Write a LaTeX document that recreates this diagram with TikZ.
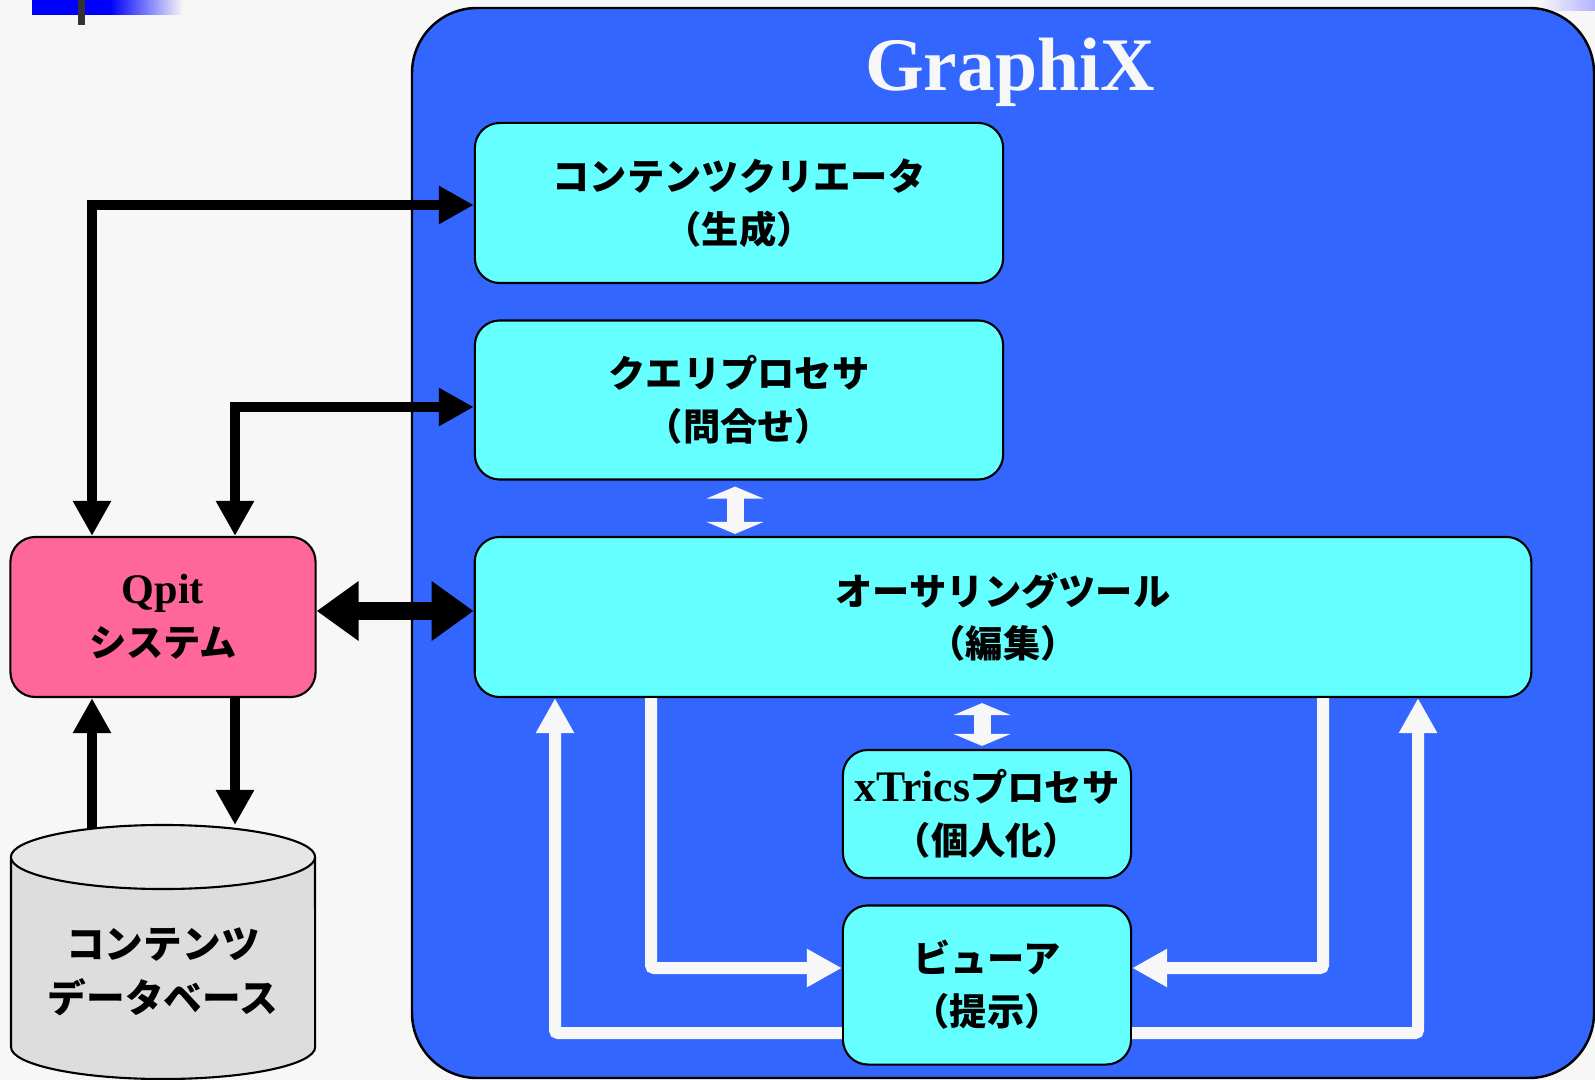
\documentclass[tikz,border=0pt]{standalone}
\usepackage{fontspec}
\usepackage{tikz}
\usetikzlibrary{arrows.meta}
\setmainfont{Liberation Serif}
\newfontfamily\jpfont{Noto Sans CJK JP}

\definecolor{bg}{HTML}{F7F7F7}
\definecolor{gblue}{HTML}{3366FF}
\definecolor{cyanbox}{HTML}{66FFFF}
\definecolor{qpink}{HTML}{FF6699}
\definecolor{dbgray}{HTML}{DDDDDD}
\definecolor{dbtop}{HTML}{E6E6E6}

\begin{document}
\begin{tikzpicture}[x=0.01cm, y=-0.01cm,
		cbox/.style={draw, fill=cyanbox, line width=0.6pt, rounded corners=0.25cm, align=center, inner sep=0pt,
			font=\jpfont\bfseries\fontsize{10.6}{15}\selectfont},
		blkarrow/.style={draw=black, line width=0.1cm, arrows={-Triangle[width=0.36cm,length=0.35cm]}},
		blkboth/.style={draw=black, line width=0.1cm, arrows={Triangle[width=0.36cm,length=0.35cm]-Triangle[width=0.36cm,length=0.35cm]}},
		blkdbl/.style={draw=black, line width=0.18cm, arrows={Triangle[width=0.57cm,length=0.42cm]-Triangle[width=0.57cm,length=0.42cm]}},
		wdbl/.style={draw=bg, line width=0.17cm, arrows={Triangle[width=0.57cm,length=0.12cm]-Triangle[width=0.57cm,length=0.12cm]}},
		warrow/.style={draw=bg, line width=0.12cm, rounded corners=0.03cm, arrows={-Triangle[width=0.36cm,length=0.35cm]}}]
				\fill[bg] (0,0) rectangle (1595,1080);
				\useasboundingbox (0,0) rectangle (1595,1080);
				
				% top bars
				\fill[blue] (32,0) rectangle (110,15);
				\shade[left color=blue, right color=bg] (110,0) rectangle (183,15);
				\fill[black!80] (78,0) rectangle (85,25);
				\shade[left color=bg, right color=blue!30] (1540,0) rectangle (1595,11);
				
				% GraphiX frame
				\draw[fill=gblue, line width=0.7pt, rounded corners=0.65cm] (412,8) rectangle (1594,1078);
				\path (1010,72) node[text=bg, font=\bfseries\fontsize{21.5}{25}\selectfont] (title) {GraphiX};
				
				\path (739,203) node[cbox, minimum width=5.28cm, minimum height=1.6cm] (creator) {コンテンツクリエータ\\（生成）}
				(739,400) node[cbox, minimum width=5.28cm, minimum height=1.59cm] (query) {クエリプロセサ\\（問合せ）}
				(1003,617) node[cbox, minimum width=10.56cm, minimum height=1.6cm] (author) {オーサリングツール\\（編集）}
				(987,814) node[cbox, minimum width=2.88cm, minimum height=1.28cm] (xtrics) {{\rmfamily\bfseries\fontsize{12.4}{15}\selectfont xTrics}プロセサ\\（個人化）}
				(987,985) node[cbox, minimum width=2.88cm, minimum height=1.59cm] (viewer) {ビューア\\（提示）}
				(163,617) node[cbox, fill=qpink, minimum width=3.05cm, minimum height=1.6cm] (qpit) {{\rmfamily\bfseries\fontsize{12}{15}\selectfont Qpit}\\システム};
				
				% database
				\draw[fill=dbgray, line width=0.6pt] (11,857) -- (11,1047) arc[start angle=180, end angle=360, x radius=1.52cm, y radius=0.32cm] -- (315,857);
				\draw[fill=dbtop, line width=0.6pt] (163,857) ellipse[x radius=1.52cm, y radius=0.32cm];
				\path (163,972) node[align=center, font=\jpfont\bfseries\fontsize{11}{15.2}\selectfont] (db) {コンテンツ\\データベース};
				\coordinate (dbin) at (235,825);
				\coordinate (dbout) at (92,828);
				
				% black connectors
				\draw[blkboth] (92,0 |- qpit.north) |- ([yshift=-0.02cm]creator.west);
				\draw[blkboth] (235,0 |- qpit.north) |- ([yshift=-0.07cm]query.west);
				\draw[blkdbl] ([yshift=0.06cm]qpit.east) -- ([yshift=0.06cm]author.west);
				\draw[blkarrow] (235,0 |- qpit.south) -- (dbin);
				\draw[blkarrow] (dbout) -- (dbout |- qpit.south);
				
				% white connectors
				\draw[wdbl, shorten <=0.06cm, shorten >=0.02cm] (735,0 |- query.south) -- (735,0 |- author.north);
				\draw[wdbl, shorten <=0.05cm, shorten >=0.03cm] (982,0 |- author.south) -- (982,0 |- xtrics.north);
				\draw[warrow] (viewer.west |- 0,1033) -| (555,0 |- author.south);
				\draw[warrow] (651,0 |- author.south) |- (viewer.west |- 0,968);
				\draw[warrow] (1323,0 |- author.south) |- (viewer.east |- 0,968);
				\draw[warrow] (viewer.east |- 0,1033) -| (1418,0 |- author.south);
			\end{tikzpicture}
\end{document}
